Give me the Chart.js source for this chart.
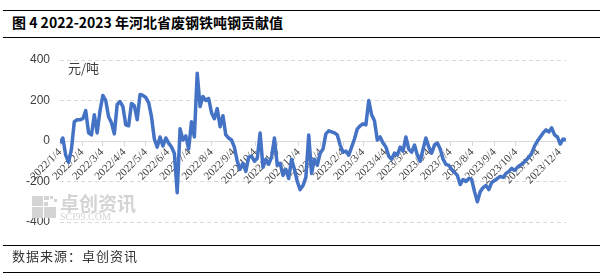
<!DOCTYPE html>
<html>
<head>
<meta charset="utf-8">
<script src="https://cdn.jsdelivr.net/npm/chart.js@4.4.1/dist/chart.umd.min.js"></script>
<style>
body { margin: 0; background: #fff; width: 603px; height: 280px; overflow: hidden; position: relative; font-family: "Noto Sans CJK SC", sans-serif; }
#chart { position: absolute; left: 0; top: 0; }
.rule { position: absolute; left: 3px; width: 597px; height: 0; border-top: 1.5px solid #000; }
#title { position: absolute; left: 12px; top: 13px; font-size: 14px; font-weight: bold; color: #000; line-height: 18px; white-space: nowrap; }
#source { position: absolute; left: 12px; top: 248px; font-size: 13px; color: #333; line-height: 16px; letter-spacing: 1px; white-space: nowrap; }
#unit { position: absolute; left: 68px; top: 60px; font-size: 13px; color: #404040; line-height: 16px; }
</style>
</head>
<body>
<div class="rule" style="top:10px"></div>
<div id="title">图 4 2022-2023 年河北省废钢铁吨钢贡献值</div>
<div class="rule" style="top:37px"></div>
<canvas id="chart" width="603" height="280"></canvas>
<div id="unit">元/吨</div>
<div class="rule" style="top:245px"></div>
<div id="source">数据来源：卓创资讯</div>
<div class="rule" style="top:272px"></div>
<script>
// 河北省废钢铁吨钢贡献值 (元/吨), one reading every 4 days from 2022/1/4
const startDate = '2022/1/4';
const stepDays = 4;
const values = [
  -10, 15, -70, -105, -40, 95, 105, 105, 110, 150,
  40, 30, 130, 40, 150, 225, 200, 120, 90, 35,
  180, 195, 170, 80, 75, 185, 175, 105, 230, 225,
  215, 190, 120, 10, -30, 20, -25, 15, -10, -30,
  -60, -255, 60, 5, 25, -40, 95, 20, 335, 170,
  220, 200, 210, 140, 110, 160, 70, 125, 30, 15,
  5, -30, -100, -140, -110, -150, -80, -75, -100, -85,
  40, -130, -90, -115, -80, 15, -120, -110, -170, -140,
  -185, -90, -140, -200, -240, -220, -180, 30, -160, -90,
  -120, -60, -40, 35, 50, 45, 40, 30, -20, -55,
  -50, -70, -30, 10, 60, 75, 85, 80, 200, 130,
  100, 5, 20, -10, -30, -75, -90, -60, -70, -30,
  -50, 20, -40, -55, -20, -70, -100, -40, 15, -30,
  -60, -20, -10, -40, -90, -115, -120, -140, -155, -170,
  -215, -190, -200, -185, -190, -250, -300, -250, -230, -220,
  -240, -205, -195, -185, -175, -180, -160, -150, -135, -145,
  -130, -120, -110, -95, -80, -60, -25, 0, 20, 40,
  55, 45, 65, 30, 20, -15, 10, 5
];
const tickLabels = [
  '2022/1/4', '2022/2/4', '2022/3/4', '2022/4/4', '2022/5/4', '2022/6/4',
  '2022/7/4', '2022/8/4', '2022/9/4', '2022/10/4', '2022/11/4', '2022/12/4',
  '2023/1/4', '2023/2/4', '2023/3/4', '2023/4/4', '2023/5/4', '2023/6/4',
  '2023/7/4', '2023/8/4', '2023/9/4', '2023/10/4', '2023/11/4', '2023/12/4'
];
const yTicks = [-400, -200, 0, 200, 400];

function dayOf(str) {
  const p = str.split('/').map(Number);
  const s = startDate.split('/').map(Number);
  return Math.round((Date.UTC(p[0], p[1] - 1, p[2]) - Date.UTC(s[0], s[1] - 1, s[2])) / 86400000);
}
const tickDays = tickLabels.map(dayOf);
const labelByDay = {};
tickLabels.forEach((t, i) => { labelByDay[tickDays[i]] = t; });
const points = values.map((v, i) => ({ x: i * stepDays, y: v }));

// faint 卓创资讯 watermark in the lower left of the plot
const watermark = {
  id: 'watermark',
  beforeDatasetsDraw(chart) {
    const c = chart.ctx;
    c.save();
    c.fillStyle = '#d4d4d4';
    const sq = [[32, 196, 11, 10], [44, 196, 5, 4], [50, 196, 3, 3], [54, 199, 3, 3], [44, 202, 4, 4],
                [32, 207, 11, 11], [44, 207, 12, 11]];
    sq.forEach(r => c.fillRect(r[0], r[1], r[2], r[3]));
    c.font = 'bold 19px "Noto Sans CJK SC"';
    c.textBaseline = 'middle';
    c.fillText('卓创资讯', 60, 204);
    c.font = '10px "Liberation Serif"';
    c.fillText('SCI99.COM', 60, 217);
    c.restore();
  }
};

new Chart(document.getElementById('chart').getContext('2d'), {
  type: 'line',
  data: {
    datasets: [{
      data: points,
      borderColor: '#4472C4',
      borderWidth: 3.5,
      borderJoinStyle: 'round',
      pointRadius: 0,
      tension: 0,
      fill: false
    }]
  },
  options: {
    responsive: false,
    animation: false,
    layout: { padding: { top: 60, bottom: 58, right: 37, left: 0 } },
    plugins: { legend: { display: false }, tooltip: { enabled: false } },
    scales: {
      x: {
        type: 'linear',
        min: 0,
        max: (values.length - 1) * stepDays,
        position: { y: 0 },
        grid: { drawOnChartArea: false, drawTicks: true, tickLength: 4, color: '#d9d9d9' },
        border: { color: '#d9d9d9', width: 1 },
        afterBuildTicks: s => { s.ticks = tickDays.map(v => ({ value: v })); },
        ticks: {
          autoSkip: false, minRotation: 45, maxRotation: 45, padding: 1,
          color: '#404040', font: { family: 'Liberation Serif', size: 11 },
          callback: v => labelByDay[v]
        }
      },
      y: {
        min: -400,
        max: 400,
        afterBuildTicks: s => { s.ticks = yTicks.map(v => ({ value: v })); },
        afterFit: s => { s.width = 60; },
        grid: { color: '#d9d9d9', drawTicks: false },
        border: { display: false, dash: [4, 3] },
        ticks: { padding: 10, color: '#404040', font: { family: 'Liberation Sans', size: 12 } }
      }
    }
  },
  plugins: [watermark]
});
</script>
</body>
</html>
